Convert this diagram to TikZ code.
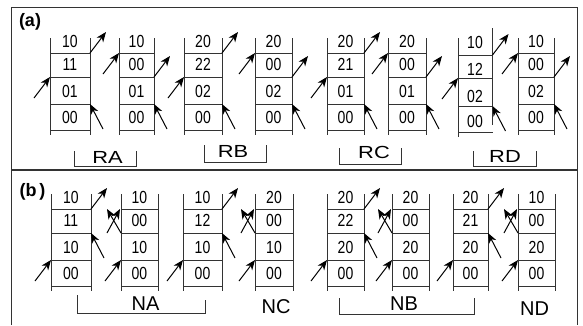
\documentclass[tikz,border=0pt]{standalone}
\usepackage{fontspec}
\setmainfont{Liberation Sans}
\newfontfamily\numfont{Liberation Sans}[FakeStretch=0.8]
\newfontfamily\labafont{Liberation Sans}[FakeStretch=1.25]
\usetikzlibrary{arrows.meta,calc}
\tikzset{
  stkline/.style={draw=black!80, line width=1pt},
  frameline/.style={draw=black!80, line width=1.1pt},
  num/.style={font=\numfont\fontsize{17.5}{17.5}\selectfont, inner sep=0pt},
  laba/.style={font=\labafont\fontsize{17.5}{17.5}\selectfont, inner sep=0pt},
  labb/.style={font=\fontsize{20}{20}\selectfont, inner sep=0pt},
  tag/.style={font=\bfseries\fontsize{18}{18}\selectfont, inner sep=0pt},
  arr/.style={draw=black, line width=1pt, -{Stealth[length=10pt,width=8pt,inset=3pt]}}
}
% stack: name, L, R, texts
\newcommand{\stk}[7]{%
  \draw[stkline] (#2,38) -- (#2,135) (#3,38) -- (#3,135);
  \foreach \yy in {53,77,104,130} {\draw[stkline] (#2,\yy) -- (#3,\yy);}
  \coordinate (#1l1) at (#2,53); \coordinate (#1l2) at (#2,77); \coordinate (#1l3) at (#2,104);
  \coordinate (#1r1) at (#3,53); \coordinate (#1r2) at (#3,77); \coordinate (#1r3) at (#3,104);
  \node[num] (#1a) at ({(#2+#3)/2},41) {#4};
  \node[num] (#1b) at ({(#2+#3)/2},64.5) {#5};
  \node[num] (#1c) at ({(#2+#3)/2},91) {#6};
  \node[num] (#1d) at ({(#2+#3)/2},117.5) {#7};
}
\newcommand{\aout}[2]{\coordinate (#2) at ($(#1)+(16,-21)$); \draw[arr] (#1) -- (#2);}
\newcommand{\ainl}[2]{\coordinate (#2) at ($(#1)+(-16,21)$); \draw[arr] (#2) -- (#1);}
\newcommand{\ainr}[2]{\coordinate (#2) at ($(#1)+(13,25)$); \draw[arr] (#2) -- (#1);}
\newcommand{\across}[1]{%
  \coordinate (#1xa) at ($(#1l1)+(-14,0)$);
  \coordinate (#1xb) at ($(#1l2)+(-14,0)$);
  \coordinate (#1xc) at ($(#1l1)+(-1,0)$);
  \draw[arr] (#1l2) -- (#1xa);
  \draw[arr] (#1xb) -- (#1xc);
}
\begin{document}
\begin{tikzpicture}[x=1pt,y=-1pt]
\useasboundingbox (0,0) rectangle (583,325);
% frame
\draw[frameline] (11.5,325) -- (11.5,7.5) -- (577.5,7.5) -- (577.5,325);
\draw[frameline] (11.5,170) -- (577.5,170);
\node[tag] (taga) at (30,22) {(a)};
\node[tag] (tagb) at (32.5,192) {(b\,)};

% ---------- (a) ----------
\stk{A1}{50}{90}{10}{11}{01}{00}
\stk{A2}{119}{154}{10}{00}{01}{00}
\stk{A3}{184}{222}{20}{22}{02}{00}
\stk{A4}{255}{292}{20}{00}{02}{00}
\stk{A5}{327}{364}{20}{21}{01}{00}
\stk{A6}{388}{426}{20}{00}{01}{00}
\stk{A8}{518}{554}{10}{00}{02}{00}
% stack A7 (irregular)
\draw[stkline] (458,38) -- (458,137) (492.5,28) -- (492.5,125);
\foreach \yy in {55,78,106,132} {\draw[stkline] (458,\yy) -- (492.5,\yy);}
\coordinate (A7l1) at (458,55); \coordinate (A7l2) at (458,78); \coordinate (A7l3) at (458,106);
\coordinate (A7r1) at (492.5,55); \coordinate (A7r2) at (492.5,78); \coordinate (A7r3) at (492.5,106);
\node[num] (A7a) at (475,42) {10};
\node[num] (A7b) at (475,69) {12};
\node[num] (A7c) at (475,96) {02};
\node[num] (A7d) at (475,121) {00};

\foreach \s in {A1,A3,A5,A7} {\aout{\s r1}{\s o1} \ainl{\s l2}{\s i2} \ainr{\s r3}{\s i3}}
\foreach \s in {A2,A4,A6,A8} {\ainl{\s l1}{\s i1} \aout{\s r2}{\s o2} \ainr{\s r3}{\s i3}}

\draw[stkline] (74,151) |- (136,166) -- (136,151);
\node[laba] (RA) at (107.5,157.5) {RA};
\draw[stkline] (204,145) |- (266,162) -- (266,145);
\node[laba] (RB) at (233,151.5) {RB};
\draw[stkline] (339,148) |- (401,164) -- (401,148);
\node[laba] (RC) at (374,152) {RC};
\draw[stkline] (473,151) |- (536,166) -- (536,151);
\node[laba] (RD) at (505,156) {RD};

% ---------- (b) ----------
\begin{scope}[shift={(0,156)}]
\stk{B1}{51}{91}{10}{11}{10}{00}
\stk{B2}{121}{158}{10}{00}{10}{00}
\stk{B3}{183}{222}{10}{12}{10}{00}
\stk{B4}{255}{293}{20}{00}{10}{00}
\stk{B5}{327}{364}{20}{22}{20}{00}
\stk{B6}{392}{429}{20}{00}{20}{00}
\stk{B7}{453}{488}{20}{21}{20}{00}
\stk{B8}{518}{555}{10}{00}{20}{00}
\end{scope}
\foreach \s in {B1,B3,B5,B7} {\aout{\s r1}{\s o1} \ainr{\s r2}{\s i2} \ainl{\s l3}{\s i3}}
\foreach \s in {B2,B4,B6,B8} {\across{\s} \ainl{\s l3}{\s i3}}

\draw[stkline] (77,295) |- (205,313) -- (205,300);
\node[labb] (NA) at (145.5,304) {NA};
\node[labb] (NC) at (276,307) {NC};
\draw[stkline] (339.5,298) |- (474,314) -- (474,298);
\node[labb] (NB) at (404,303.5) {NB};
\node[labb] (ND) at (534.5,308.5) {ND};
\end{tikzpicture}
\end{document}
